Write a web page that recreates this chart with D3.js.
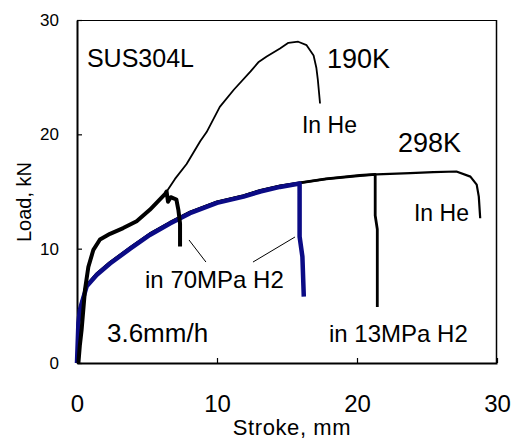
<!DOCTYPE html>
<html>
<head>
<meta charset="utf-8">
<script src="https://cdn.jsdelivr.net/npm/d3@7/dist/d3.min.js"></script>
<style>
html,body{margin:0;padding:0;background:#fff;}
text{font-family:"Liberation Sans",Arial,sans-serif;fill:#000;}
</style>
</head>
<body>
<svg id="c" width="512" height="441"></svg>
<script>
// ---- data (Stroke mm, Load kN) ----
const he190X = [0,0.1,0.33,0.57,0.81,1.17,1.64,2.36,3.3,4.26,5.2,6.3,7.0,7.83,8.8,9.26,10.2,11.2,12.4,12.95,13.55,14.5,15.1,15.8,16.4,16.9,17.1,17.2,17.36];
const he190Y = [0,0.5,2.9,6.4,8.4,9.9,10.8,11.3,11.8,12.4,13.4,14.8,16.1,17.4,19.4,20.2,22.4,23.9,25.5,26.3,26.8,27.5,28.0,28.1,27.8,26.9,25.8,24.8,22.7];

const h2190X = [0.1,0.2,0.33,0.57,0.81,1.17,1.64,2.36,3.3,4.26,5.2,6.3,6.4,6.5,6.7,6.9,7.1,7.24,7.36,7.36];
const h2190Y = [0,1.5,2.9,6.4,8.4,9.9,10.8,11.3,11.8,12.4,13.4,14.8,15.0,14.1,14.5,14.4,14.3,13.4,12.2,10.2];

const he298X = [0,0.1,0.2,0.33,0.69,1.4,2.36,3.8,5.2,6.64,8.07,10,11.9,13.1,14.5,15.9,17.8,20.2,21.4,23.8,25.45,27.1,28.1,28.55,28.7,28.8];
const he298Y = [0,3.5,4.6,5.3,6.8,7.8,8.8,10.1,11.3,12.3,13.2,14.1,14.65,15.1,15.5,15.75,16.1,16.4,16.5,16.6,16.7,16.75,16.3,15.6,14.55,12.66];

const h213X = [0,0.1,0.2,0.33,0.69,1.4,2.36,3.8,5.2,6.64,8.07,10,11.9,13.1,14.5,15.9,17.8,20.2,21.3,21.3,21.45,21.45];
const h213Y = [0,3.5,4.6,5.3,6.8,7.8,8.8,10.1,11.3,12.3,13.2,14.1,14.65,15.1,15.5,15.75,16.1,16.4,16.5,12.9,11.7,4.9];

const h270X = [0,0.1,0.2,0.33,0.69,1.4,2.36,3.8,5.2,6.64,8.07,10,11.9,13.1,14.5,15.9,15.9,16.1,16.2];
const h270Y = [0,3.5,4.6,5.2,6.7,7.7,8.7,10.0,11.2,12.2,13.1,14.0,14.55,15.0,15.4,15.7,11.05,9.3,5.8];

const xTicks = [0,10,20,30];
const yTicks = [0,10,20,30];

const labels = [
  {t:"SUS304L", x:0.71, y:25.9, s:25},
  {t:"190K", x:17.86, y:25.8, s:27},
  {t:"In He", x:16.07, y:20.1, s:23},
  {t:"298K", x:22.93, y:18.46, s:27},
  {t:"In He", x:24.07, y:12.42, s:23},
  {t:"in 70MPa H2", x:4.86, y:6.56, s:24},
  {t:"3.6mm/h", x:2.14, y:1.84, s:26},
  {t:"in 13MPa H2", x:18.0, y:1.84, s:24}
];
const leaders = [
  [[8.0,10.76],[9.21,8.83]],
  [[12.57,8.83],[15.57,11.02]]
];

// ---- chart ----
const svg = d3.select("#c");
const L=77, R=497, T=20, B=363;
const x = d3.scaleLinear().domain([0,30]).range([L,R]);
const y = d3.scaleLinear().domain([0,30]).range([B,T]);

// frame top/right
svg.append("line").attr("x1",L).attr("x2",R).attr("y1",T+0.5).attr("y2",T+0.5).attr("stroke","#000").attr("stroke-width",1.2);
svg.append("line").attr("x1",R-0.5).attr("x2",R-0.5).attr("y1",T).attr("y2",B).attr("stroke","#000").attr("stroke-width",1.5);

const gx = svg.append("g").attr("transform",`translate(0,${B})`)
  .call(d3.axisBottom(x).tickValues(xTicks).tickFormat(d3.format("d")).tickSizeInner(-5).tickSizeOuter(0).tickPadding(32));
gx.select(".domain").attr("stroke-width",2);
gx.selectAll(".tick line").attr("stroke-width",1.2);
gx.selectAll("text").style("font-size","24px").attr("font-family",null);

const gy = svg.append("g").attr("transform",`translate(${L},0)`)
  .call(d3.axisLeft(y).tickValues(yTicks).tickFormat(d3.format("d")).tickSizeInner(-5).tickSizeOuter(0).tickPadding(18));
gy.select(".domain").attr("stroke-width",2);
gy.selectAll(".tick line").attr("stroke-width",1.2);
gy.selectAll("text").style("font-size","17px").attr("font-family",null);

svg.append("text").attr("x",(L+R)/2+5).attr("y",435).attr("text-anchor","middle")
  .style("font-size","22px").style("letter-spacing","0.6px").text("Stroke, mm");
svg.append("text").attr("transform","translate(31,202) rotate(-90)").attr("text-anchor","middle")
  .style("font-size","20px").text("Load, kN");

const line = d3.line().x(d=>x(d[0])).y(d=>y(d[1]));
const zip = (a,b)=>a.map((v,i)=>[v,b[i]]);
function draw(xs,ys,col,w){
  svg.append("path").attr("d",line(zip(xs,ys))).attr("fill","none")
    .attr("stroke",col).attr("stroke-width",w).attr("stroke-linejoin","round").attr("stroke-linecap","butt");
}
draw(he190X,he190Y,"#000",1.8);
draw(he298X,he298Y,"#000",2.2);
draw(h213X,h213Y,"#000",2.8);
draw(h270X,h270Y,"#0b0b85",4.5);
draw(h2190X,h2190Y,"#000",4);

leaders.forEach(l=>{
  svg.append("line").attr("x1",x(l[0][0])).attr("y1",y(l[0][1]))
    .attr("x2",x(l[1][0])).attr("y2",y(l[1][1])).attr("stroke","#000").attr("stroke-width",1);
});

labels.forEach(d=>{
  svg.append("text").attr("x",x(d.x)).attr("y",y(d.y)).style("font-size",d.s+"px").text(d.t);
});
</script>
</body>
</html>
